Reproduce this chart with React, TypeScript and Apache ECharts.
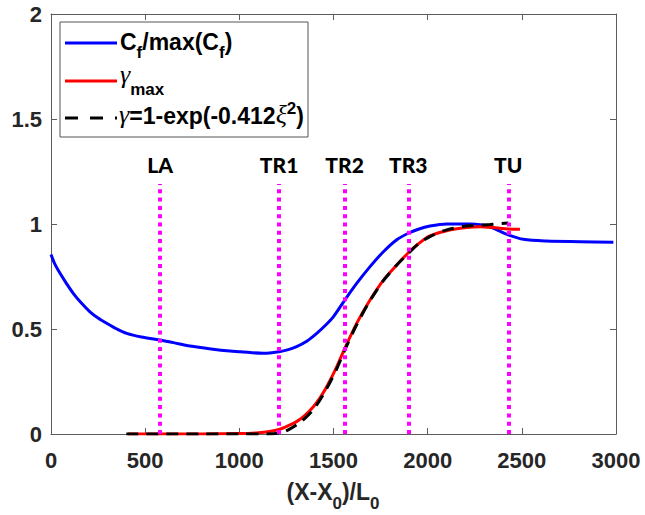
import React, { useEffect, useRef } from "react";
import * as echarts from "echarts";

// ---------- data ----------
const xTicks = [0, 500, 1000, 1500, 2000, 2500, 3000];
const yTicks = [0, 0.5, 1, 1.5, 2];

const cfX = [0, 20, 48, 80, 118, 160, 207, 250, 296, 350, 402, 480, 579, 650, 738, 850, 950, 1004, 1128, 1211, 1260, 1304, 1360, 1411, 1460, 1500, 1560, 1623, 1694, 1765, 1836, 1897, 1950, 2012, 2101, 2225, 2290, 2331, 2380, 2428, 2508, 2632, 2809, 2986];
const cfY = [0.855, 0.81, 0.765, 0.72, 0.67, 0.625, 0.582, 0.552, 0.527, 0.5, 0.479, 0.462, 0.448, 0.435, 0.419, 0.405, 0.395, 0.392, 0.384, 0.392, 0.402, 0.416, 0.443, 0.479, 0.52, 0.559, 0.638, 0.717, 0.797, 0.868, 0.925, 0.956, 0.975, 0.99, 1.0, 1.0, 0.995, 0.987, 0.967, 0.948, 0.927, 0.919, 0.916, 0.913];

const gammaX = [410, 600, 800, 1000, 1100, 1160, 1211, 1260, 1304, 1350, 1393, 1430, 1464, 1517, 1560, 1623, 1694, 1765, 1836, 1897, 1950, 2012, 2101, 2207, 2278, 2349, 2428, 2490];
const gammaY = [0, 0, 0, 0.002, 0.006, 0.012, 0.022, 0.04, 0.059, 0.09, 0.13, 0.175, 0.225, 0.32, 0.408, 0.527, 0.638, 0.733, 0.805, 0.863, 0.905, 0.943, 0.968, 0.983, 0.987, 0.983, 0.976, 0.975];

const fitX = [400, 600, 800, 1000, 1150, 1210, 1260, 1330, 1400, 1460, 1517, 1560, 1623, 1694, 1765, 1836, 1897, 1950, 2012, 2101, 2207, 2331, 2428];
const fitY = [0, 0, 0, 0, 0, 0.004, 0.02, 0.06, 0.125, 0.21, 0.31, 0.4, 0.52, 0.635, 0.73, 0.805, 0.86, 0.905, 0.94, 0.972, 0.99, 0.998, 1.005];

const regionNames = ["LA", "TR1", "TR2", "TR3", "TU"];
const regionX = [580, 1211, 1559, 1897, 2428];
const regionLineTop = 1.19;
const regionLabelY = 1.281;

// ---------- helpers ----------
const zip = (xs: number[], ys: number[]) => xs.map((x, i) => [x, ys[i]]);

type Piece = { t: string; size: number; family: string; weight?: string; italic?: boolean; dy?: number };

let measureCtx: CanvasRenderingContext2D | null = null;
function fontOf(p: Piece) {
  return `${p.italic ? "italic " : ""}${p.weight || "normal"} ${p.size}px ${p.family}`;
}
function measure(p: Piece) {
  if (!measureCtx) measureCtx = document.createElement("canvas").getContext("2d");
  if (!measureCtx) return p.t.length * p.size * 0.55;
  measureCtx.font = fontOf(p);
  return measureCtx.measureText(p.t).width;
}

// lay out pieces on a baseline; returns graphic text elements
function richLine(pieces: Piece[], x: number, baseline: number, anchor: "left" | "center" = "left", fill = "#000") {
  const widths = pieces.map(measure);
  const total = widths.reduce((a, b) => a + b, 0);
  let cx = anchor === "center" ? x - total / 2 : x;
  const els: any[] = [];
  pieces.forEach((p, i) => {
    const bl = baseline + (p.dy || 0);
    const centerY = bl - 0.3465 * p.size;
    els.push({
      type: "text",
      x: cx,
      y: centerY,
      silent: true,
      style: {
        text: p.t,
        font: fontOf(p),
        fill,
        align: "left",
        verticalAlign: "middle",
        textAlign: "left",
        textVerticalAlign: "middle",
      },
    });
    cx += widths[i];
  });
  return els;
}

const SANS = '"Liberation Sans", Arial, sans-serif';
const SERIF = '"Liberation Serif", "Times New Roman", serif';

export default function App() {
  const ref = useRef<HTMLDivElement>(null);

  useEffect(() => {
    if (!ref.current) return;
    const chart = echarts.init(ref.current, undefined, { renderer: "svg" });

    const axisColor = "#5c5c5c";
    const labelColor = "#262626";

    const B = "bold";
    const legendEls: any[] = [
      {
        type: "rect",
        shape: { x: 60, y: 22, width: 248, height: 115 },
        style: { fill: "#fff", stroke: "#555", lineWidth: 1 },
        silent: true,
        z: 100,
      },
      {
        type: "line",
        shape: { x1: 65, y1: 43, x2: 117, y2: 43 },
        style: { stroke: "#0000ff", lineWidth: 3 },
        z: 101,
      },
      {
        type: "line",
        shape: { x1: 65, y1: 81, x2: 117, y2: 81 },
        style: { stroke: "#ff0000", lineWidth: 3 },
        z: 101,
      },
      {
        type: "line",
        shape: { x1: 65, y1: 118, x2: 117, y2: 118 },
        style: { stroke: "#000", lineWidth: 3, lineDash: [13, 12] },
        z: 101,
      },
      ...richLine(
        [
          { t: "C", size: 23, family: SANS, weight: B },
          { t: "f", size: 17, family: SANS, weight: B, dy: 8 },
          { t: "/max(C", size: 23, family: SANS, weight: B },
          { t: "f", size: 17, family: SANS, weight: B, dy: 8 },
          { t: ")", size: 23, family: SANS, weight: B },
        ],
        120,
        50
      ).map((e) => ({ ...e, z: 101 })),
      ...richLine(
        [
          { t: "γ", size: 26, family: SERIF, italic: true },
          { t: "max", size: 17, family: SANS, weight: B, dy: 11 },
        ],
        120,
        84
      ).map((e) => ({ ...e, z: 101 })),
      ...richLine(
        [
          { t: "γ", size: 26, family: SERIF, italic: true },
          { t: "=1-exp(-0.412", size: 23, family: SANS, weight: B },
          { t: "ξ", size: 26, family: SERIF, italic: true },
          { t: "2", size: 17, family: SANS, weight: B, dy: -10 },
          { t: ")", size: 23, family: SANS, weight: B },
        ],
        119,
        124
      ).map((e) => ({ ...e, z: 101 })),
    ];

    const titleEls = richLine(
      [
        { t: "(X-X", size: 23, family: SANS, weight: B },
        { t: "0", size: 17, family: SANS, weight: B, dy: 9 },
        { t: ")/L", size: 23, family: SANS, weight: B },
        { t: "0", size: 17, family: SANS, weight: B, dy: 9 },
      ],
      333,
      500,
      "center",
      labelColor
    );

    const xAxisBase = {
      type: "value" as const,
      min: xTicks[0],
      max: xTicks[xTicks.length - 1],
      interval: xTicks[1] - xTicks[0],
      splitLine: { show: false },
      axisLine: { show: true, lineStyle: { color: axisColor, width: 1 } },
      axisTick: { show: true, inside: true, length: 6, lineStyle: { color: axisColor } },
    };
    const yAxisBase = {
      type: "value" as const,
      min: yTicks[0],
      max: yTicks[yTicks.length - 1],
      interval: yTicks[1] - yTicks[0],
      splitLine: { show: false },
      axisLine: { show: true, onZero: false, lineStyle: { color: axisColor, width: 1 } },
      axisTick: { show: true, inside: true, length: 6, lineStyle: { color: axisColor } },
    };

    chart.setOption({
      animation: false,
      backgroundColor: "#fff",
      grid: { left: 51, right: 29, top: 14, bottom: 81, containLabel: false },
      xAxis: [
        {
          ...xAxisBase,
          position: "bottom",
          axisLine: { ...xAxisBase.axisLine, onZero: false },
          axisLabel: {
            show: true,
            margin: 15,
            color: labelColor,
            fontFamily: SANS,
            fontWeight: "bold",
            fontSize: 22,
            formatter: (v: number) => String(v),
          },
        },
        {
          ...xAxisBase,
          position: "top",
          axisLine: { ...xAxisBase.axisLine, onZero: false },
          axisLabel: { show: false },
        },
      ],
      yAxis: [
        {
          ...yAxisBase,
          position: "left",
          axisLabel: {
            show: true,
            margin: 9,
            color: labelColor,
            fontFamily: SANS,
            fontWeight: "bold",
            fontSize: 22,
            formatter: (v: number) => String(v),
          },
        },
        {
          ...yAxisBase,
          position: "right",
          axisLabel: { show: false },
        },
      ],
      series: [
        {
          name: "Cf/max(Cf)",
          type: "line",
          data: zip(cfX, cfY),
          symbol: "none",
          smooth: 0.3,
          lineStyle: { color: "#0000ff", width: 3 },
          z: 2,
        },
        {
          name: "gamma_max",
          type: "line",
          data: zip(gammaX, gammaY),
          symbol: "none",
          smooth: 0.3,
          lineStyle: { color: "#ff0000", width: 3 },
          z: 3,
        },
        {
          name: "fit",
          type: "line",
          data: zip(fitX, fitY),
          symbol: "none",
          smooth: 0.3,
          lineStyle: { color: "#000000", width: 3, type: [12, 8] },
          z: 4,
        },
        {
          name: "regions",
          type: "scatter",
          symbolSize: 0,
          itemStyle: { opacity: 1, color: "#000" },
          data: regionNames.map((n, i) => ({ name: n, value: [regionX[i], regionLabelY] })),
          label: {
            show: true,
            position: "inside",
            formatter: (p: any) => p.name,
            color: "#000000",
            opacity: 1,
            textBorderWidth: 0,
            fontFamily: 'Lato, "Open Sans", sans-serif',
            fontWeight: 900,
            fontSize: 21,
          },
          emphasis: { disabled: true },
          markLine: {
            silent: true,
            symbol: "none",
            label: { show: false },
            lineStyle: { color: "#ff00ff", width: 4, type: [4, 4.3], opacity: 1 },
            data: regionX.map((x) => [
              { coord: [x, 0] },
              { coord: [x, regionLineTop] },
            ]),
          },
          z: 5,
        },
      ],
      graphic: [...legendEls, ...titleEls],
    });

    return () => chart.dispose();
  }, []);

  return (
    <div
      ref={ref}
      style={{ position: "fixed", left: 0, top: 0, width: 645, height: 515, background: "#fff" }}
    />
  );
}
